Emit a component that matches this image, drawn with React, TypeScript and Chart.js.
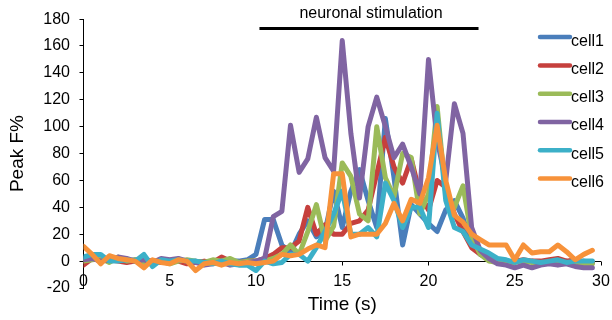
import { useEffect, useRef } from "react";
import { Chart, registerables } from "chart.js";

Chart.register(...registerables);

// Sample times (s)
const TIME_S = [
  0, 0.5, 1, 1.5, 2, 2.5, 3, 3.5, 4, 4.5, 5, 5.5, 6, 6.5, 7, 7.5, 8, 8.5, 9, 9.5,
  10, 10.5, 11, 11.5, 12, 12.5, 13, 13.5, 14, 14.5, 15, 15.5, 16, 16.5, 17, 17.5, 18, 18.5, 19, 19.5,
  20, 20.5, 21, 21.5, 22, 22.5, 23, 23.5, 24, 24.5, 25, 25.5, 26, 26.5, 27, 27.5, 28, 28.5, 29, 29.5,
];

// Peak F% per cell
const CELL1 = [
  2, 3, 1, 0, 2, 0, 1, 0, -1, 0, 0, 1, -1, 0, -1, 0, 1, 0, 0, 1,
  5, 31, 31, 12, 6, 20, 30, 18, 22, 52, 25, 52, 68, 45, 25, 106, 62, 12, 42, 35,
  28, 22, 38, 45, 32, 12, 5, 2, 0, -1, 0, -1, 0, -1, 0, -1, 0, -1, 0, -1,
];
const CELL2 = [
  -3, 2, 0, 1, 0, -1, 0, 1, 0, -1, 0, 0, -2, -1, 0, -1, 3, 0, -1, 0,
  0, 2, 5, 10, 10, 15, 40, 20, 27, 20, 20, 28, 30, 38, 65, 92, 70, 58, 76, 50,
  38, 60, 55, 35, 22, 10, 5, 3, 0, -1, 0, 1, 0, 0, 1, 2, 0, 1, -1, -1,
];
const CELL3 = [
  0, 1, 2, -1, 3, 0, 1, -1, 0, 0, -2, 0, 1, 0, -1, 1, 0, 2, -1, 0,
  0, 0, 2, 5, 12, 5, 22, 42, 15, 26, 73, 63, 35, 30, 100, 62, 48, 80, 77, 35,
  50, 115, 50, 40, 56, 18, 5, 0, -1, -1, -1, 0, -1, -1, -1, -1, -1, -2, -2, -2,
];
const CELL4 = [
  1, 2, 0, 1, 3, 2, 0, 1, -1, 2, 1, 2, 0, -1, -3, -2, -1, -3, -2, -1,
  0, 2, 33, 37, 101, 66, 76, 107, 77, 67, 164, 95, 47, 100, 122, 100, 77, 87, 70, 50,
  150, 90, 60, 117, 95, 25, 8, 2, -2, -3, -5, -3, -5, -3, -2, -3, -2, -4, -5, -5,
];
const CELL5 = [
  3, 5, 5, 0, 0, 1, 0, 5, -4, 1, 0, 1, 0, 0, -1, -2, 0, -2, -3, -3,
  -7, 0, -2, -1, 5, 5, 0, 10, 22, 35, 52, 20, 20, 25, 18, 58, 45, 25, 40, 40,
  25, 110, 45, 25, 22, 12, 9, 6, 2, 1, -1, 1, 0, -1, 0, 1, -1, 0, 0, 0,
];
const CELL6 = [
  11, 5, -2, 4, 2, 1, 0, -5, 1, -1, -2, 1, 0, -7, -2, -1, -3, -1, -2, -1,
  -2, -1, 0, 5, 4, 5, 9, 12, 10, 65, 65, 18, 20, 20, 20, 28, 43, 30, 46, 43,
  62, 101, 60, 34, 29, 20, 16, 12, 12, 12, 1, 12, 6, 7, 7, 12, 7, 1, 5, 8,
];

const SERIES = [CELL1, CELL2, CELL3, CELL4, CELL5, CELL6];
const SERIES_NAMES = ["cell1", "cell2", "cell3", "cell4", "cell5", "cell6"];
const SERIES_COLORS = ["#4A7EBB", "#C6403D", "#9BBB59", "#8064A2", "#3CB0C8", "#F7923A"];

const X_TICKS = [0, 5, 10, 15, 20, 25, 30];
const Y_TICKS = [-20, 0, 20, 40, 60, 80, 100, 120, 140, 160, 180];
const X_TITLE = "Time (s)";
const Y_TITLE = "Peak F%";

const STIM_LABEL = "neuronal stimulation";
const STIM_RANGE = [10.2, 22.9];
const STIM_LEVEL = 173;

const FONT = "'Liberation Sans', Arial, Helvetica, sans-serif";

// Excel-style x axis: line crossing at y = 0, labels and title below the plot
const xAxisAtZero = {
  id: "xAxisAtZero",
  beforeDatasetsDraw(chart: any) {
    const { ctx, scales } = chart;
    const x = scales.x;
    const y = scales.y;
    const y0 = Math.round(y.getPixelForValue(0)) + 0.5;
    ctx.save();
    ctx.strokeStyle = "#000";
    ctx.lineWidth = 1;
    ctx.beginPath();
    ctx.moveTo(x.getPixelForValue(X_TICKS[0]), y0);
    ctx.lineTo(x.getPixelForValue(X_TICKS[X_TICKS.length - 1]), y0);
    X_TICKS.forEach((t) => {
      const px = Math.round(x.getPixelForValue(t)) + 0.5;
      ctx.moveTo(px, y0);
      ctx.lineTo(px, y0 + 4);
    });
    ctx.stroke();
    ctx.restore();
  },
  afterDraw(chart: any) {
    const { ctx, scales, chartArea } = chart;
    const x = scales.x;
    ctx.save();
    ctx.fillStyle = "#000";
    ctx.textAlign = "center";
    ctx.textBaseline = "middle";
    ctx.font = `16px ${FONT}`;
    X_TICKS.forEach((t) => {
      ctx.fillText(String(t), x.getPixelForValue(t), chartArea.bottom - 6);
    });
    ctx.font = `19px ${FONT}`;
    ctx.fillText(X_TITLE, (chartArea.left + chartArea.right) / 2, chartArea.bottom + 17);
    ctx.restore();
  },
};

const stimulationMark = {
  id: "stimulationMark",
  afterDraw(chart: any) {
    const { ctx, scales } = chart;
    const x = scales.x;
    const y = scales.y;
    const x1 = x.getPixelForValue(STIM_RANGE[0]);
    const x2 = x.getPixelForValue(STIM_RANGE[1]);
    const py = y.getPixelForValue(STIM_LEVEL);
    ctx.save();
    ctx.strokeStyle = "#000";
    ctx.lineWidth = 3;
    ctx.beginPath();
    ctx.moveTo(x1, py);
    ctx.lineTo(x2, py);
    ctx.stroke();
    ctx.fillStyle = "#000";
    ctx.font = `16px ${FONT}`;
    ctx.textAlign = "center";
    ctx.textBaseline = "middle";
    ctx.fillText(STIM_LABEL, (x1 + x2) / 2 + 2, py - 15);
    ctx.restore();
  },
};

const sideLegend = {
  id: "sideLegend",
  afterDraw(chart: any) {
    const { ctx, chartArea } = chart;
    const lx1 = chartArea.right - 61;
    const lx2 = chartArea.right - 31;
    const tx = chartArea.right - 30;
    ctx.save();
    ctx.font = `16px ${FONT}`;
    ctx.textAlign = "left";
    ctx.textBaseline = "middle";
    SERIES_NAMES.forEach((name, i) => {
      const ly = chartArea.top + 18 + i * 28.3;
      ctx.strokeStyle = SERIES_COLORS[i];
      ctx.lineWidth = 4.5;
      ctx.lineCap = "round";
      ctx.beginPath();
      ctx.moveTo(lx1, ly);
      ctx.lineTo(lx2, ly);
      ctx.stroke();
      ctx.fillStyle = "#000";
      ctx.fillText(name, tx, ly + 4);
    });
    ctx.restore();
  },
};

export default function App() {
  const ref = useRef<HTMLCanvasElement>(null);

  useEffect(() => {
    document.body.style.margin = "0";
    const canvas = ref.current;
    if (!canvas) return;
    const chart = new Chart(canvas, {
      type: "line",
      data: {
        datasets: SERIES.map((values, i) => ({
          label: SERIES_NAMES[i],
          data: TIME_S.map((t, j) => ({ x: t, y: values[j] })),
          borderColor: SERIES_COLORS[i],
          backgroundColor: SERIES_COLORS[i],
          borderWidth: 5,
          pointRadius: 0,
          tension: 0,
          fill: false,
          borderCapStyle: "round",
          borderJoinStyle: "round",
          order: SERIES.length - i,
        })),
      },
      options: {
        animation: false,
        responsive: false,
        maintainAspectRatio: false,
        layout: { padding: { left: 2, right: 11, top: 18, bottom: 32 } },
        plugins: {
          legend: { display: false },
          tooltip: { enabled: false },
        },
        scales: {
          x: {
            type: "linear",
            min: 0,
            max: 30,
            display: false,
          },
          y: {
            type: "linear",
            min: -20,
            max: 180,
            afterBuildTicks: (scale: any) => {
              scale.ticks = Y_TICKS.map((value) => ({ value }));
            },
            ticks: {
              font: { family: FONT, size: 16 },
              color: "#000",
              padding: 9.5,
            },
            grid: {
              drawOnChartArea: false,
              drawTicks: true,
              tickLength: 4,
              color: "#000",
            },
            border: { display: true, color: "#000", width: 1 },
            title: {
              display: true,
              text: Y_TITLE,
              color: "#000",
              font: { family: FONT, size: 19 },
              padding: { top: 4, bottom: 5 },
            },
          },
        },
      },
      plugins: [xAxisAtZero, stimulationMark, sideLegend],
    } as any);
    return () => chart.destroy();
  }, []);

  return (
    <div style={{ width: 612, height: 320 }}>
      <canvas ref={ref} width={612} height={320} style={{ display: "block", width: 612, height: 320 }} />
    </div>
  );
}
